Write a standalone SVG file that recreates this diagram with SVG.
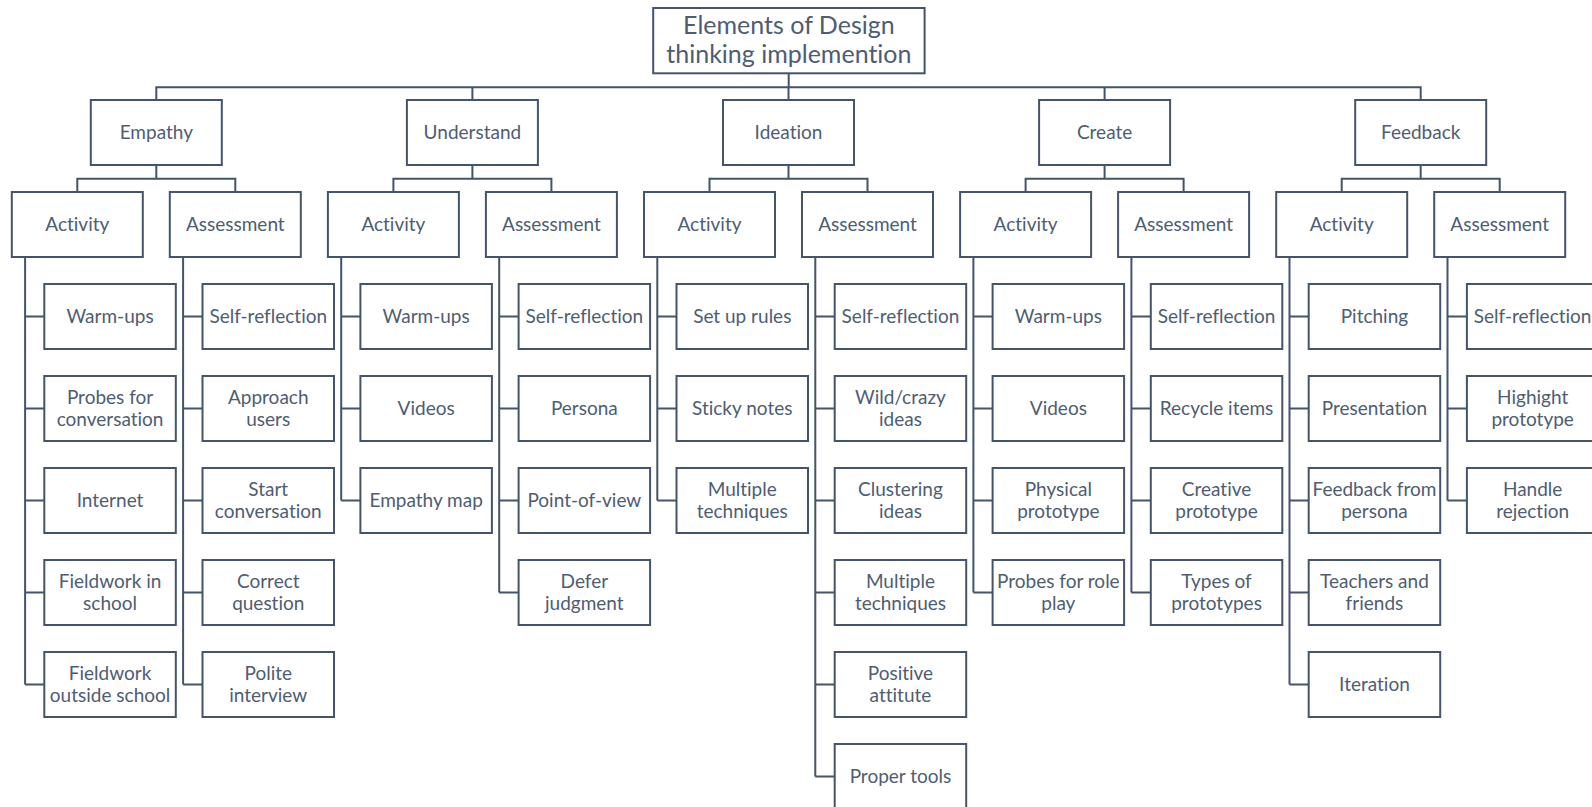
<svg xmlns="http://www.w3.org/2000/svg" width="1592" height="807" viewBox="0 0 1592 807">
<style>
rect{fill:#fff;stroke:#44546A;stroke-width:2}
text{font-family:Lato,"Liberation Sans",sans-serif;font-size:19px;fill:#4E5D72;text-anchor:middle;font-variant-ligatures:none;font-feature-settings:"liga" 0}
.t{font-size:25px}
#connectors path{fill:none;stroke:#44546A;stroke-width:2}
</style>
<rect width="1592" height="807" style="fill:#fff;stroke:none"/>
<g id="connectors">
<path d="M788.7,73.3V87.3M156.3,100V87.3H1420.7V100M472.4,87.3V100M788.5,87.3V100M1104.6,87.3V100"/>
<path d="M156.3,165V178.7M77.3,192V178.7H235.3V192M472.4,165V178.7M393.4,192V178.7H551.4V192M788.5,165V178.7M709.5,192V178.7H867.5V192M1104.6,165V178.7M1025.6,192V178.7H1183.6V192M1420.7,165V178.7M1341.7,192V178.7H1499.7V192"/>
<path d="M25.1,257V684.5M25.1,316.5H44.3M25.1,408.5H44.3M25.1,500.5H44.3M25.1,592.5H44.3M25.1,684.5H44.3"/>
<path d="M183.1,257V684.5M183.1,316.5H202.5M183.1,408.5H202.5M183.1,500.5H202.5M183.1,592.5H202.5M183.1,684.5H202.5"/>
<path d="M341.2,257V500.5M341.2,316.5H360.4M341.2,408.5H360.4M341.2,500.5H360.4"/>
<path d="M499.2,257V592.5M499.2,316.5H518.6M499.2,408.5H518.6M499.2,500.5H518.6M499.2,592.5H518.6"/>
<path d="M657.3,257V500.5M657.3,316.5H676.5M657.3,408.5H676.5M657.3,500.5H676.5"/>
<path d="M815.3,257V776.5M815.3,316.5H834.7M815.3,408.5H834.7M815.3,500.5H834.7M815.3,592.5H834.7M815.3,684.5H834.7M815.3,776.5H834.7"/>
<path d="M973.4,257V592.5M973.4,316.5H992.6M973.4,408.5H992.6M973.4,500.5H992.6M973.4,592.5H992.6"/>
<path d="M1131.4,257V592.5M1131.4,316.5H1150.8M1131.4,408.5H1150.8M1131.4,500.5H1150.8M1131.4,592.5H1150.8"/>
<path d="M1289.5,257V684.5M1289.5,316.5H1308.7M1289.5,408.5H1308.7M1289.5,500.5H1308.7M1289.5,592.5H1308.7M1289.5,684.5H1308.7"/>
<path d="M1447.5,257V500.5M1447.5,316.5H1466.9M1447.5,408.5H1466.9M1447.5,500.5H1466.9"/>
</g>

<g id="root" transform="translate(653.2,8)"><rect width="271.4" height="65.3"/><text class="t" x="135.7" y="25.5">Elements of Design<tspan x="135.7" dy="29">thinking implemention</tspan></text></g>

<g id="empathy" transform="translate(90.8,100)"><rect width="131" height="65"/><text x="65.5" y="38.5">Empathy</text></g>
<g id="understand" transform="translate(406.9,100)"><rect width="131" height="65"/><text x="65.5" y="38.5">Understand</text></g>
<g id="ideation" transform="translate(723,100)"><rect width="131" height="65"/><text x="65.5" y="38.5">Ideation</text></g>
<g id="create" transform="translate(1039.1,100)"><rect width="131" height="65"/><text x="65.5" y="38.5">Create</text></g>
<g id="feedback" transform="translate(1355.2,100)"><rect width="131" height="65"/><text x="65.5" y="38.5">Feedback</text></g>

<g id="emp-act" transform="translate(11.8,192)"><rect width="131" height="65"/><text x="65.5" y="38.5">Activity</text></g>
<g id="emp-ass" transform="translate(169.8,192)"><rect width="131" height="65"/><text x="65.5" y="38.5">Assessment</text></g>
<g id="und-act" transform="translate(327.9,192)"><rect width="131" height="65"/><text x="65.5" y="38.5">Activity</text></g>
<g id="und-ass" transform="translate(485.9,192)"><rect width="131" height="65"/><text x="65.5" y="38.5">Assessment</text></g>
<g id="ide-act" transform="translate(644,192)"><rect width="131" height="65"/><text x="65.5" y="38.5">Activity</text></g>
<g id="ide-ass" transform="translate(802,192)"><rect width="131" height="65"/><text x="65.5" y="38.5">Assessment</text></g>
<g id="cre-act" transform="translate(960.1,192)"><rect width="131" height="65"/><text x="65.5" y="38.5">Activity</text></g>
<g id="cre-ass" transform="translate(1118.1,192)"><rect width="131" height="65"/><text x="65.5" y="38.5">Assessment</text></g>
<g id="fee-act" transform="translate(1276.2,192)"><rect width="131" height="65"/><text x="65.5" y="38.5">Activity</text></g>
<g id="fee-ass" transform="translate(1434.2,192)"><rect width="131" height="65"/><text x="65.5" y="38.5">Assessment</text></g>

<!-- Empathy activity -->
<g id="emp-act-1" transform="translate(44.3,284)"><rect width="131.5" height="65"/><text x="65.75" y="38.5">Warm-ups</text></g>
<g id="emp-act-2" transform="translate(44.3,376)"><rect width="131.5" height="65"/><text x="65.75" y="27.7">Probes for<tspan x="65.75" dy="22">conversation</tspan></text></g>
<g id="emp-act-3" transform="translate(44.3,468)"><rect width="131.5" height="65"/><text x="65.75" y="38.5">Internet</text></g>
<g id="emp-act-4" transform="translate(44.3,560)"><rect width="131.5" height="65"/><text x="65.75" y="27.7">Fieldwork in<tspan x="65.75" dy="22">school</tspan></text></g>
<g id="emp-act-5" transform="translate(44.3,652)"><rect width="131.5" height="65"/><text x="65.75" y="27.7">Fieldwork<tspan x="65.75" dy="22">outside school</tspan></text></g>
<!-- Empathy assessment -->
<g id="emp-ass-1" transform="translate(202.5,284)"><rect width="131.5" height="65"/><text x="65.75" y="38.5">Self-reflection</text></g>
<g id="emp-ass-2" transform="translate(202.5,376)"><rect width="131.5" height="65"/><text x="65.75" y="27.7">Approach<tspan x="65.75" dy="22">users</tspan></text></g>
<g id="emp-ass-3" transform="translate(202.5,468)"><rect width="131.5" height="65"/><text x="65.75" y="27.7">Start<tspan x="65.75" dy="22">conversation</tspan></text></g>
<g id="emp-ass-4" transform="translate(202.5,560)"><rect width="131.5" height="65"/><text x="65.75" y="27.7">Correct<tspan x="65.75" dy="22">question</tspan></text></g>
<g id="emp-ass-5" transform="translate(202.5,652)"><rect width="131.5" height="65"/><text x="65.75" y="27.7">Polite<tspan x="65.75" dy="22">interview</tspan></text></g>
<!-- Understand activity -->
<g id="und-act-1" transform="translate(360.4,284)"><rect width="131.5" height="65"/><text x="65.75" y="38.5">Warm-ups</text></g>
<g id="und-act-2" transform="translate(360.4,376)"><rect width="131.5" height="65"/><text x="65.75" y="38.5">Videos</text></g>
<g id="und-act-3" transform="translate(360.4,468)"><rect width="131.5" height="65"/><text x="65.75" y="38.5">Empathy map</text></g>
<!-- Understand assessment -->
<g id="und-ass-1" transform="translate(518.6,284)"><rect width="131.5" height="65"/><text x="65.75" y="38.5">Self-reflection</text></g>
<g id="und-ass-2" transform="translate(518.6,376)"><rect width="131.5" height="65"/><text x="65.75" y="38.5">Persona</text></g>
<g id="und-ass-3" transform="translate(518.6,468)"><rect width="131.5" height="65"/><text x="65.75" y="38.5">Point-of-view</text></g>
<g id="und-ass-4" transform="translate(518.6,560)"><rect width="131.5" height="65"/><text x="65.75" y="27.7">Defer<tspan x="65.75" dy="22">judgment</tspan></text></g>
<!-- Ideation activity -->
<g id="ide-act-1" transform="translate(676.5,284)"><rect width="131.5" height="65"/><text x="65.75" y="38.5">Set up rules</text></g>
<g id="ide-act-2" transform="translate(676.5,376)"><rect width="131.5" height="65"/><text x="65.75" y="38.5">Sticky notes</text></g>
<g id="ide-act-3" transform="translate(676.5,468)"><rect width="131.5" height="65"/><text x="65.75" y="27.7">Multiple<tspan x="65.75" dy="22">techniques</tspan></text></g>
<!-- Ideation assessment -->
<g id="ide-ass-1" transform="translate(834.7,284)"><rect width="131.5" height="65"/><text x="65.75" y="38.5">Self-reflection</text></g>
<g id="ide-ass-2" transform="translate(834.7,376)"><rect width="131.5" height="65"/><text x="65.75" y="27.7">Wild/crazy<tspan x="65.75" dy="22">ideas</tspan></text></g>
<g id="ide-ass-3" transform="translate(834.7,468)"><rect width="131.5" height="65"/><text x="65.75" y="27.7">Clustering<tspan x="65.75" dy="22">ideas</tspan></text></g>
<g id="ide-ass-4" transform="translate(834.7,560)"><rect width="131.5" height="65"/><text x="65.75" y="27.7">Multiple<tspan x="65.75" dy="22">techniques</tspan></text></g>
<g id="ide-ass-5" transform="translate(834.7,652)"><rect width="131.5" height="65"/><text x="65.75" y="27.7">Positive<tspan x="65.75" dy="22">attitute</tspan></text></g>
<g id="ide-ass-6" transform="translate(834.7,744)"><rect width="131.5" height="65"/><text x="65.75" y="38.5">Proper tools</text></g>
<!-- Create activity -->
<g id="cre-act-1" transform="translate(992.6,284)"><rect width="131.5" height="65"/><text x="65.75" y="38.5">Warm-ups</text></g>
<g id="cre-act-2" transform="translate(992.6,376)"><rect width="131.5" height="65"/><text x="65.75" y="38.5">Videos</text></g>
<g id="cre-act-3" transform="translate(992.6,468)"><rect width="131.5" height="65"/><text x="65.75" y="27.7">Physical<tspan x="65.75" dy="22">prototype</tspan></text></g>
<g id="cre-act-4" transform="translate(992.6,560)"><rect width="131.5" height="65"/><text x="65.75" y="27.7">Probes for role<tspan x="65.75" dy="22">play</tspan></text></g>
<!-- Create assessment -->
<g id="cre-ass-1" transform="translate(1150.8,284)"><rect width="131.5" height="65"/><text x="65.75" y="38.5">Self-reflection</text></g>
<g id="cre-ass-2" transform="translate(1150.8,376)"><rect width="131.5" height="65"/><text x="65.75" y="38.5">Recycle items</text></g>
<g id="cre-ass-3" transform="translate(1150.8,468)"><rect width="131.5" height="65"/><text x="65.75" y="27.7">Creative<tspan x="65.75" dy="22">prototype</tspan></text></g>
<g id="cre-ass-4" transform="translate(1150.8,560)"><rect width="131.5" height="65"/><text x="65.75" y="27.7">Types of<tspan x="65.75" dy="22">prototypes</tspan></text></g>
<!-- Feedback activity -->
<g id="fee-act-1" transform="translate(1308.7,284)"><rect width="131.5" height="65"/><text x="65.75" y="38.5">Pitching</text></g>
<g id="fee-act-2" transform="translate(1308.7,376)"><rect width="131.5" height="65"/><text x="65.75" y="38.5">Presentation</text></g>
<g id="fee-act-3" transform="translate(1308.7,468)"><rect width="131.5" height="65"/><text x="65.75" y="27.7">Feedback from<tspan x="65.75" dy="22">persona</tspan></text></g>
<g id="fee-act-4" transform="translate(1308.7,560)"><rect width="131.5" height="65"/><text x="65.75" y="27.7">Teachers and<tspan x="65.75" dy="22">friends</tspan></text></g>
<g id="fee-act-5" transform="translate(1308.7,652)"><rect width="131.5" height="65"/><text x="65.75" y="38.5">Iteration</text></g>
<!-- Feedback assessment -->
<g id="fee-ass-1" transform="translate(1466.9,284)"><rect width="131.5" height="65"/><text x="65.75" y="38.5">Self-reflection</text></g>
<g id="fee-ass-2" transform="translate(1466.9,376)"><rect width="131.5" height="65"/><text x="65.75" y="27.7">Highight<tspan x="65.75" dy="22">prototype</tspan></text></g>
<g id="fee-ass-3" transform="translate(1466.9,468)"><rect width="131.5" height="65"/><text x="65.75" y="27.7">Handle<tspan x="65.75" dy="22">rejection</tspan></text></g>
</svg>
